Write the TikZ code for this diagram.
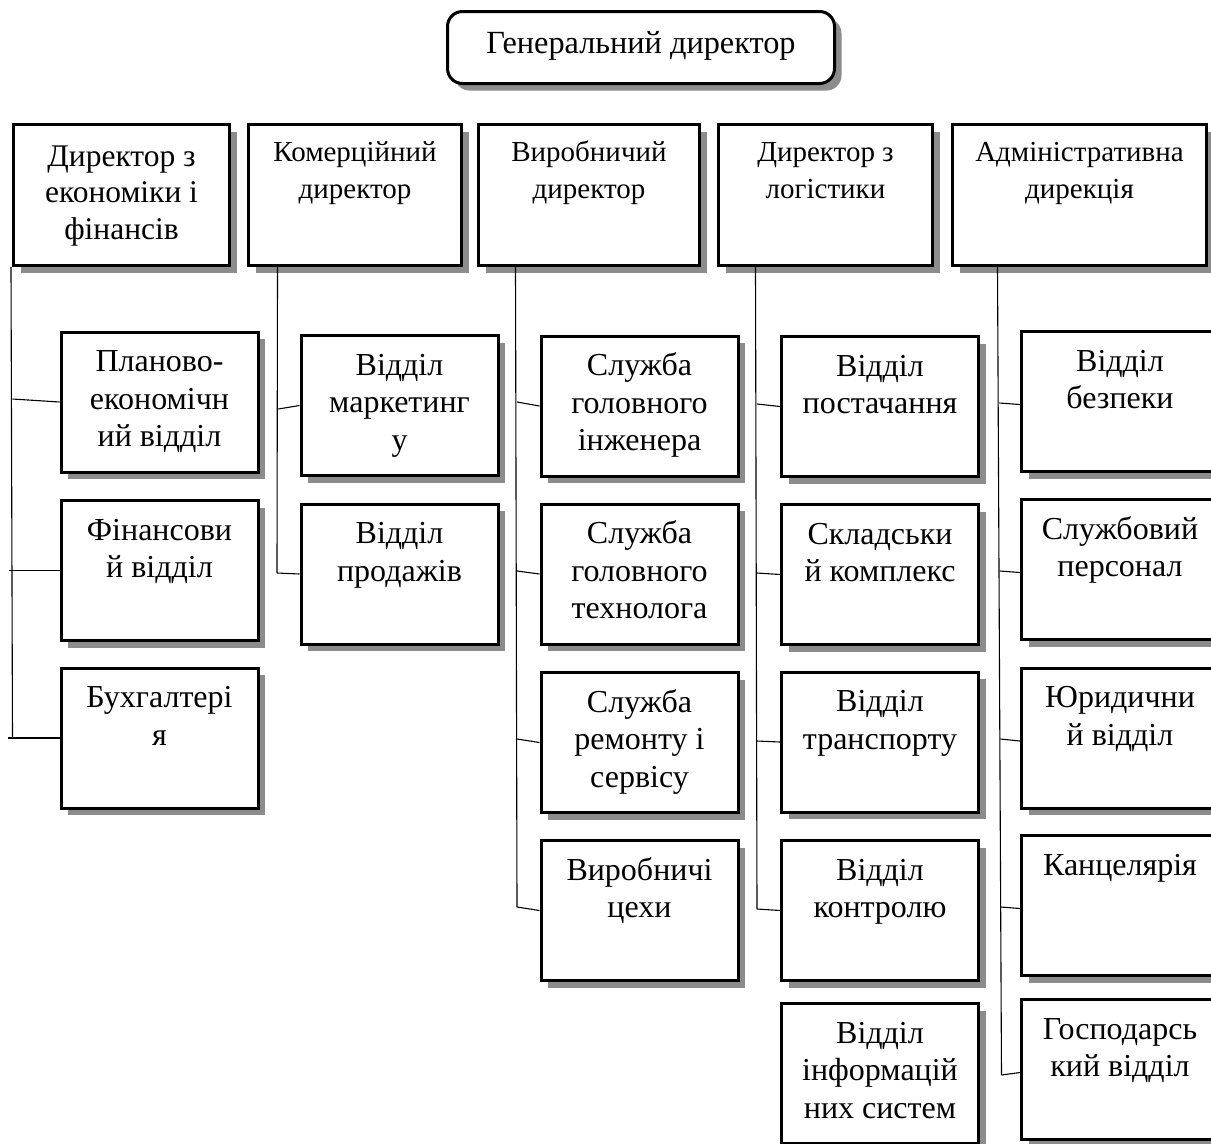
\documentclass[tikz,border=0pt]{standalone}
\usepackage{fontspec}
\setmainfont{Liberation Serif}
\usetikzlibrary{shadows}

% box text: fixed-height top-aligned parbox, first baseline set by a strut
\newcommand\celltext[4]{\parbox[c][#1][t]{#2}{\centering\rule{0pt}{#3}#4}}
\newcommand\subtext[1]{\celltext{140pt}{194pt}{39.5pt}{#1}}
\newcommand\dirtext[2][205pt]{\celltext{141pt}{#1}{36.5pt}{#2}}

\tikzset{
  unitbox/.style={rectangle, draw, line width=3pt, fill=white, inner sep=0pt,
    drop shadow={shadow xshift=7pt, shadow yshift=-7pt, fill=black!45, opacity=1}},
  subbox/.style={unitbox, minimum width=197pt, minimum height=140pt,
    font=\fontsize{32}{37.5}\selectfont},
  dirbox/.style={unitbox, minimum height=141pt,
    font=\fontsize{29}{37.5}\selectfont},
  headbox/.style={unitbox, rounded corners=15pt, minimum width=387pt, minimum height=72pt,
    font=\fontsize{32.3}{37.5}\selectfont},
  conn/.style={line width=1.1pt}
}

\begin{document}
\begin{tikzpicture}[x=1pt, y=-1pt]
\useasboundingbox (0,0) rectangle (1211,1144);
\clip (0,0) rectangle (1211,1144);

% head
\node[headbox] (gen) at (641,47.5) {\celltext{72pt}{375pt}{41.5pt}{Генеральний директор}};

% directors
\node[dirbox, minimum width=216pt, font=\fontsize{31.5}{36.5}\selectfont] (d1) at (121.5,195)
  {\celltext{141pt}{205pt}{41.5pt}{Директор з\\економіки і\\фінансів}};
\node[dirbox, minimum width=213pt] (d2) at (355,195) {\dirtext{Комерційний\\директор}};
\node[dirbox, minimum width=221pt] (d3) at (589,195) {\dirtext{Виробничий\\директор}};
\node[dirbox, minimum width=214pt] (d4) at (825.5,195) {\dirtext{Директор з\\логістики}};
\node[dirbox, minimum width=254pt] (d5) at (1079.5,195) {\dirtext[240pt]{Адміністративна\\дирекція}};

% economics and finance
\node[subbox] (plan) at (159.5,402) {\subtext{Планово-\\економічн\\ий відділ}};
\node[subbox] (fin)  at (159.5,570.5) {\subtext{Фінансови\\й відділ}};
\node[subbox] (buh)  at (159.5,738) {\subtext{Бухгалтері\\я}};

% commercial
\node[subbox] (mark) at (399.5,405.5) {\subtext{Відділ\\маркетинг\\у}};
\node[subbox] (sale) at (399.5,574) {\subtext{Відділ\\продажів}};

% production
\node[subbox] (eng)  at (639.5,406) {\subtext{Служба\\головного\\інженера}};
\node[subbox] (tech) at (639.5,574) {\subtext{Служба\\головного\\технолога}};
\node[subbox] (rep)  at (639.5,742.5) {\subtext{Служба\\ремонту і\\сервісу}};
\node[subbox] (shop) at (639.5,910.5) {\subtext{Виробничі\\цехи}};

% logistics
\node[subbox] (sup)  at (880,406.5) {\subtext{Відділ\\постачання}};
\node[subbox] (stor) at (880,574.5) {\subtext{Складськи\\й комплекс}};
\node[subbox] (trn)  at (880,742) {\subtext{Відділ\\транспорту}};
\node[subbox] (ctl)  at (880,910.5) {\subtext{Відділ\\контролю}};
\node[subbox] (ict)  at (880,1073.5) {\subtext{Відділ\\інформацій\\них систем}};

% administration
\node[subbox] (sec)  at (1120,401.5) {\subtext{Відділ\\безпеки}};
\node[subbox] (staff) at (1120,569.5) {\subtext{Службовий\\персонал}};
\node[subbox] (law)  at (1120,738) {\subtext{Юридични\\й відділ}};
\node[subbox] (off)  at (1120,905.5) {\subtext{Канцелярія}};
\node[subbox] (eco)  at (1120,1069.5) {\subtext{Господарсь\\кий відділ}};

% trunk and branch points
\coordinate (t1) at (12.5,738);
\coordinate (j11) at (12.5,399);
\coordinate (j12) at (9,570.5);
\coordinate (j13) at (8,738);

\coordinate (j21) at (278.3,409);
\coordinate (j22) at (277,573);

\coordinate (j31) at (517,402);
\coordinate (j32) at (517,571);
\coordinate (j33) at (517,739);
\coordinate (j34) at (517,907);

\coordinate (j41) at (757,404);
\coordinate (j42) at (757,573);
\coordinate (j43) at (757,741);
\coordinate (j44) at (757,909);

\coordinate (j51) at (999.3,403);
\coordinate (j52) at (999.8,571);
\coordinate (j53) at (1000.3,739);
\coordinate (j54) at (1000.8,907);
\coordinate (j55) at (1001.5,1075);

% trunks
\draw[conn] ([xshift=-1pt]d1.south west) -- (t1);
\draw[conn] ([xshift=30.5pt]d2.south west) -- (j22);
\draw[conn] ([xshift=38.5pt]d3.south west) -- (j34);
\draw[conn] ([xshift=38.5pt]d4.south west) -- (j44);
\draw[conn] ([xshift=46.5pt]d5.south west) -- (j55);

% branches
\draw[conn] (j11) -- (plan.west);
\draw[conn] (j12) -- (fin.west);
\draw[conn] (j13) -- (buh.west);
\draw[conn] (j21) -- (mark.west);
\draw[conn] (j22) -- (sale.west);
\draw[conn] (j31) -- (eng.west);
\draw[conn] (j32) -- (tech.west);
\draw[conn] (j33) -- (rep.west);
\draw[conn] (j34) -- (shop.west);
\draw[conn] (j41) -- (sup.west);
\draw[conn] (j42) -- (stor.west);
\draw[conn] (j43) -- (trn.west);
\draw[conn] (j44) -- (ctl.west);
\draw[conn] (j51) -- ([yshift=-3pt]sec.west);
\draw[conn] (j52) -- ([yshift=-3pt]staff.west);
\draw[conn] (j53) -- ([yshift=-3pt]law.west);
\draw[conn] (j54) -- ([yshift=-3pt]off.west);
\draw[conn] (j55) -- ([yshift=-3pt]eco.west);
\end{tikzpicture}
\end{document}
